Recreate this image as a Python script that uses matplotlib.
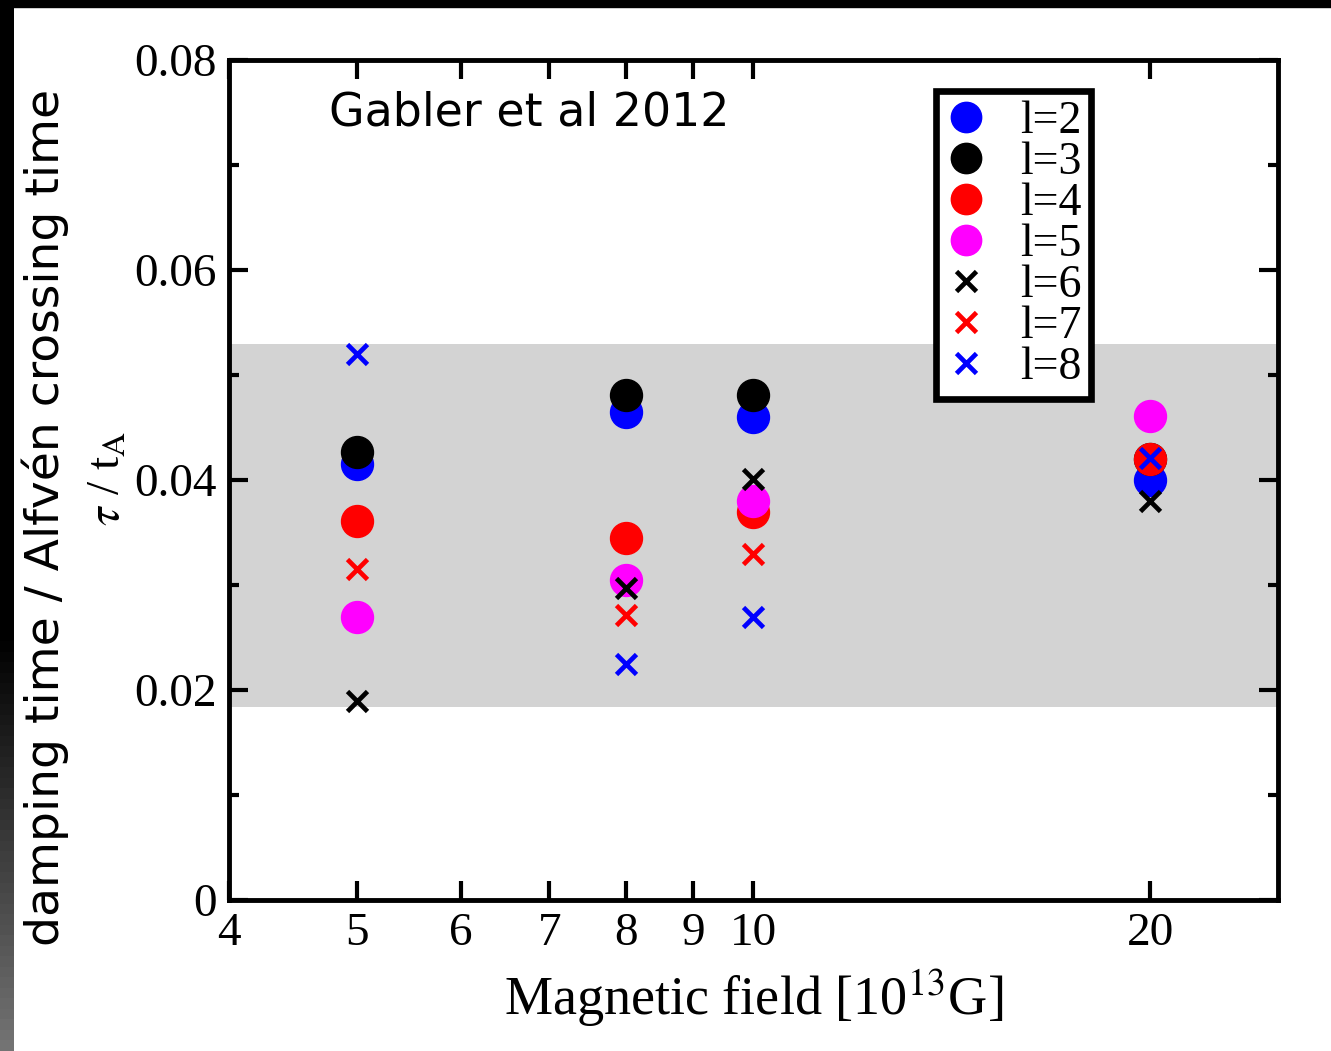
import numpy as np
import matplotlib
matplotlib.use("Agg")
import matplotlib.pyplot as plt
from matplotlib.lines import Line2D
from matplotlib.patches import Rectangle

# Magnetic field strengths [1e13 G]
field = [5, 8, 10, 20]

# Damping time / Alfven crossing time for each multipole l
tau_l2 = [0.0415, 0.0465, 0.0460, 0.0400]
tau_l3 = [0.0427, 0.0481, 0.0481, 0.0420]
tau_l4 = [0.0361, 0.0345, 0.0370, 0.0420]
tau_l5 = [0.0270, 0.0305, 0.0380, 0.0461]
tau_l6 = [0.0190, 0.0297, 0.0401, 0.0380]
tau_l7 = [0.0315, 0.0271, 0.0330, 0.0420]
tau_l8 = [0.0520, 0.0225, 0.0270, 0.0421]

band_low, band_high = 0.0184, 0.0530

x_ticks = [4, 5, 6, 7, 8, 9, 10, 20]
y_ticks = [0, 0.02, 0.04, 0.06, 0.08]
y_tick_labels = ["0", "0.02", "0.04", "0.06", "0.08"]

serif = ["Liberation Serif", "DejaVu Serif"]
sans = ["DejaVu Sans"]

W, H = 1331, 1051
fig = plt.figure(figsize=(W / 100, H / 100), dpi=100)
fig.patch.set_facecolor("white")

ax = fig.add_axes([229 / W, 1 - 900 / H, (1278 - 229) / W, (900 - 60) / H])
ax.set_xscale("log")
ax.set_xlim(4, 25)
ax.set_ylim(0, 0.08)

ax.axhspan(band_low, band_high, color="#d3d3d3", lw=0, zorder=0)

circle_ms = 23
cross_ms = 14
cross_mew = 3.4
series = [
    ("l=2", tau_l2, "o", "#0000ff"),
    ("l=3", tau_l3, "o", "#000000"),
    ("l=4", tau_l4, "o", "#ff0000"),
    ("l=5", tau_l5, "o", "#ff00ff"),
    ("l=6", tau_l6, "x", "#000000"),
    ("l=7", tau_l7, "x", "#ff0000"),
    ("l=8", tau_l8, "x", "#0000ff"),
]
handles = []
for i, (lab, vals, mk, col) in enumerate(series):
    if mk == "o":
        ax.plot(field, vals, ls="none", marker="o", ms=circle_ms, color=col,
                mec=col, zorder=3 + i)
        handles.append(Line2D([], [], ls="none", marker="o", ms=circle_ms * 0.95,
                              color=col, mec=col, label=lab))
    else:
        ax.plot(field, vals, ls="none", marker="x", ms=cross_ms, color=col,
                mew=cross_mew, zorder=3 + i)
        handles.append(Line2D([], [], ls="none", marker="x", ms=cross_ms,
                              color=col, mew=cross_mew, label=lab))

# Axes frame and ticks
for sp in ax.spines.values():
    sp.set_linewidth(3.5)
ax.set_xticks(x_ticks)
ax.set_xticklabels([str(t) for t in x_ticks])
ax.xaxis.set_minor_locator(matplotlib.ticker.NullLocator())
ax.set_yticks(y_ticks)
ax.set_yticklabels(y_tick_labels)
ax.set_yticks([0.01, 0.03, 0.05, 0.07], minor=True)
ax.tick_params(which="major", direction="in", length=14, width=3.0,
               top=True, right=True, pad=9, labelsize=34)
ax.tick_params(which="minor", direction="in", length=7, width=3.0,
               top=True, right=True)
for t in ax.get_xticklabels() + ax.get_yticklabels():
    t.set_fontfamily(serif)

ax.set_xlabel(r"Magnetic field [10$^{13}$G]", fontsize=39, family=serif,
              labelpad=9, math_fontfamily="stix")

ax.text(0.095, 0.937, "Gabler et al 2012", transform=ax.transAxes,
        fontsize=33, family=sans, ha="left", va="center")

leg = ax.legend(handles=handles, loc="upper right",
                bbox_to_anchor=(0.822, 0.963), borderaxespad=0,
                fancybox=False, frameon=True, edgecolor="black",
                prop={"family": serif, "size": 33}, handlelength=0.9,
                handletextpad=0.75, labelspacing=-0.03, borderpad=0.2,
                framealpha=1)
leg.get_frame().set_linewidth(4.8)

# Y-axis labels: description and symbol line
fig.text(45 / W, 1 - 517 / H, "damping time / Alfvén crossing time",
         rotation=90, fontsize=34, family=sans, ha="center", va="center")
fig.text(108 / W, 1 - 478 / H, r"$\tau$ / t$_{\mathrm{A}}$", rotation=90,
         fontsize=34, family=serif, ha="center", va="center",
         math_fontfamily="stix")

# Dark frame around the figure edges
fig.patches.append(Rectangle((0, 1 - 7 / H), 1, 7 / H, transform=fig.transFigure,
                             color="black", zorder=10))
strip = fig.add_axes([0, 0, 13 / W, 1])
grad = np.concatenate([np.zeros(60), np.linspace(0, 0.45, 40)])[:, None]
strip.imshow(grad, cmap="gray", vmin=0, vmax=1, aspect="auto",
             extent=[0, 1, 0, 1], origin="upper")
strip.axis("off")

fig.savefig("out.png", dpi=100)
